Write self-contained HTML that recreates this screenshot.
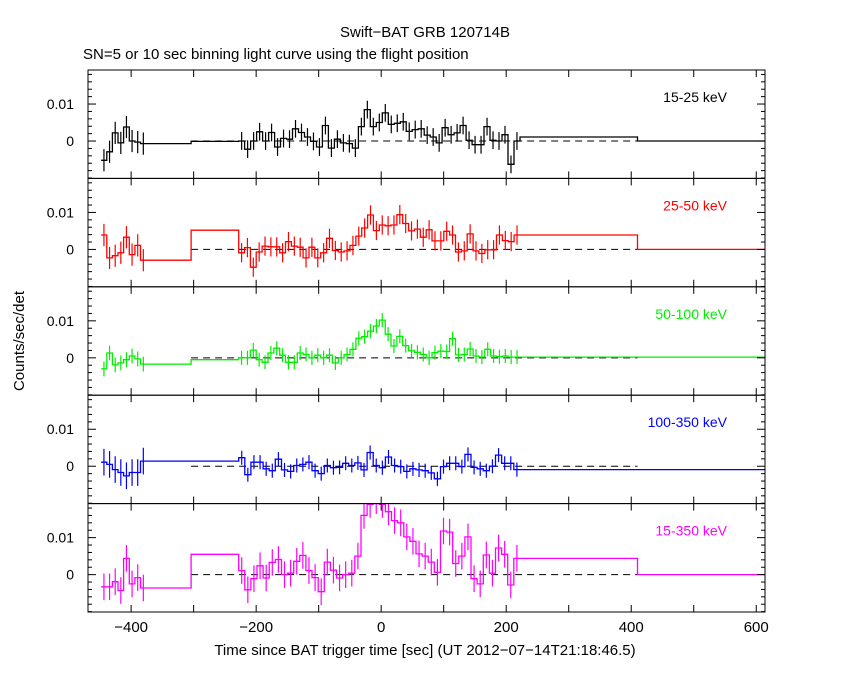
<!DOCTYPE html>
<html><head><meta charset="utf-8"><style>
body{margin:0;background:#fff;}
svg{display:block;font-family:"Liberation Sans",sans-serif;}
</style></head><body>
<svg id="c" width="850" height="680"></svg>
<script>
const bandLabels=["15-25 keV","25-50 keV","50-100 keV","100-350 keV","15-350 keV"];
const bandColors=["#000","#ff0000","#00ee00","#0000ff","#ff00ff"];
// units: 0.001 counts/sec/det
const early1=[-5.2,-2.9,2.2,-0.5,3.8,0,-0.3,-0.7];
const early2=[3.9,-2.3,-1.7,-0.9,3.3,-1.4,1.1,-2.9];
const early3=[-3,1.3,-1.9,-1.4,-0.5,0.5,-0.3,-1.7];
const early4=[1.1,0.5,-0.9,-1.7,-2.6,-1.7,-1.7,1.4];
const early5=[-3.3,-3.3,-1.9,-4.3,4.4,-2.5,-0.8,-3.6];
const wide1=[-0.7,-0.1,1.1,0];
const wide2=[-2.9,5.2,3.9,0];
const wide3=[-1.7,-0.5,0.2,0.2];
const wide4=[1.4,1.4,-0.9,-0.9];
const wide5=[-3.6,5.5,4.4,0];
const dense1=[0,-2.2,0,2.5,0,2.3,-1.6,0.7,0.5,3.3,2.3,1.1,-0.1,-1.6,4.2,-1.9,0.5,-0.5,-0.7,-1.9,3.9,8.5,3.9,5,7.6,4.5,4.8,5.2,2.6,3.1,3.3,1.6,1.1,-0.5,3.6,1.7,2.2,4.2,0.2,-1,-1,3.9,0.2,0,1.7,-6.3,0];
const dense2=[-0.9,0.5,-4.8,-0.7,0.9,0.7,0.7,-0.9,2.1,0.9,0.6,-2.3,0.6,-2.3,-0.9,3,-0.3,-0.7,-0.4,1.1,3.6,5.8,9.3,5.1,6.6,6.4,6.6,9.4,7,5,5.5,3.3,5.3,2.3,2.3,4.9,3.9,-0.7,-0.4,4.2,-0.4,-1.1,-0.1,-0.1,3.9,2.4,2.1,3.9];
const dense3=[0,0,2.1,-0.5,-1.2,1.3,2.6,0.7,-1.2,-1.2,1.3,0.9,0,0.7,0,0.7,-1.4,0,0.9,2.3,5.3,5.7,7.2,8.6,10.2,6.4,3.2,5.8,3.3,1.9,1.5,0.9,0,1.4,1.8,1.7,5.2,0.8,0.9,2.4,0.5,0.2,2.3,0.5,0.3,0.5,0.2,0.2];
const dense4=[2.3,-2.3,1.1,1.1,-0.7,-1.2,1.9,-1,-1.4,0.2,0.5,1.1,-1.2,-2,0.2,-0.4,-0.3,0.8,0.2,0.9,-1,3.7,0.2,-0.4,2.5,0.2,-0.1,-1.4,-0.7,-1,-1.2,-1.8,-3.4,-0.1,0.8,0.8,-0.1,3.2,-0.3,-0.7,-1.2,0,3,0.8,0.8,-0.9];
const dense5=[1.1,-4.1,-1.1,2.4,-0.9,3.3,4.1,0,0.4,3.6,5.2,1.1,-0.8,-4.6,3.4,1.2,-0.9,0,0.4,5,16,19,20,19,17,14.6,14,10.2,9,5.6,5,3.4,0.6,11.8,11.5,3,5,10.2,-1.1,-2.5,5.3,0.4,7.2,5.5,-2.8,4.4];
const earlyErr=[3,3,2,3.6,3.6,3];
const denseErr=[2.4,2.6,1.9,1.9,3.6];
const xTicks=[-400,-200,0,200,400,600];
const yTickLabels=["0.01","0"];
const early=[early1,early2,early3,early4,early5];
const wide=[wide1,wide2,wide3,wide4,wide5];
const dense=[dense1,dense2,dense3,dense4,dense5];
// time bin definitions (sec)
const earlyStart=-448, earlyEnd=-376;
const wideEdges=[-376,-304,-228,222,410,614];
const denseStart=-228, denseEnd=222;

const svg=document.getElementById('c');
const NS='http://www.w3.org/2000/svg';
function el(t,a,p){const e=document.createElementNS(NS,t);for(const k in a)e.setAttribute(k,a[k]);(p||svg).appendChild(e);return e;}
const L=88,R=765,T0=70,PH=108.4;
const xMin=-469,xMax=614,yMin=-0.0101,yMax=0.0192;
const X=t=>L+(t-xMin)/(xMax-xMin)*(R-L);
const Y=(i,v)=>T0+PH*i+(yMax-v)/(yMax-yMin)*PH;

const defs=el('defs',{});
for(let i=0;i<5;i++){
  const cp=el('clipPath',{id:'cp'+i},defs);
  el('rect',{x:L,y:T0+PH*i,width:R-L,height:PH},cp);
}
for(let i=0;i<5;i++){
  const g=el('g',{'clip-path':'url(#cp'+i+')'});
  
  
  const c=bandColors[i];
  // dashed zero line
  el('line',{x1:X(-304),x2:X(410),y1:Y(i,0),y2:Y(i,0),stroke:'#000','stroke-dasharray':'7,5','stroke-width':1},g);
  // build bins
  const bins=[];
  const ew=(earlyEnd-earlyStart)/early[i].length;
  early[i].forEach((v,k)=>bins.push([earlyStart+k*ew,earlyStart+(k+1)*ew,v,earlyErr[i]]));
  bins.push([wideEdges[0],wideEdges[1],wide[i][0],0]);
  bins.push([wideEdges[1],wideEdges[2],wide[i][1],0]);
  const dw=(denseEnd-denseStart)/dense[i].length;
  dense[i].forEach((v,k)=>bins.push([denseStart+k*dw,denseStart+(k+1)*dw,v,denseErr[i]]));
  bins.push([wideEdges[3],wideEdges[4],wide[i][2],0]);
  bins.push([wideEdges[4],wideEdges[5],wide[i][3],0]);
  let d='';
  bins.forEach((b,k)=>{
    const y=Y(i,b[2]/1000);
    d+=(k===0?'M':'L')+X(b[0]).toFixed(1)+','+y.toFixed(1)+'L'+X(b[1]).toFixed(1)+','+y.toFixed(1);
    if(b[3]>0){const xm=X((b[0]+b[1])/2);
      const eb=el('line',{x1:xm,x2:xm,y1:Y(i,(b[2]+b[3])/1000),y2:Y(i,(b[2]-b[3])/1000),stroke:c,'stroke-width':1.2},g);
      
      }
  });
  el('path',{d:d,fill:'none',stroke:c,'stroke-width':1.3},g);
  // frame
  const top=T0+PH*i;
  const fr=el('rect',{x:L,y:top,width:R-L,height:PH,fill:'none',stroke:'#000','stroke-width':1});
  
  
  for(let t=-400;t<=600;t+=100){
    el('line',{x1:X(t),x2:X(t),y1:top,y2:top+7,stroke:'#000'});
    el('line',{x1:X(t),x2:X(t),y1:top+PH,y2:top+PH-7,stroke:'#000'});
  }
  for(let v=-0.01;v<=0.0192;v+=0.002){
    const yy=Y(i,v);if(yy<top||yy>top+PH)continue;
    const maj=Math.abs(v-0.01)<1e-6||Math.abs(v)<1e-6;
    el('line',{x1:L,x2:L+(maj?8:4),y1:yy,y2:yy,stroke:'#000'});
    el('line',{x1:R,x2:R-(maj?8:4),y1:yy,y2:yy,stroke:'#000'});
  }
  [0.01,0].forEach((v,k)=>{
    const t=el('text',{x:74,y:Y(i,v)+5,'text-anchor':'end','font-size':14,fill:'#000'});
    t.textContent=yTickLabels[k];
    
    
  });
  const lb=el('text',{x:727,y:top+32,'text-anchor':'end','font-size':14,fill:c});
  lb.textContent=bandLabels[i];
  
  
}
xTicks.forEach(t=>{
  const tx=el('text',{x:X(t),y:632,'text-anchor':'middle','font-size':15,fill:'#000'});
  tx.textContent=String(t).replace('-','\u2212');
  
  
});
function txt(s,a,name){const t=el('text',a);t.textContent=s;}
txt('Swift\u2212BAT GRB 120714B',{x:425,y:37,'text-anchor':'middle','font-size':15},'chart-title');
txt('SN=5 or 10 sec binning light curve using the flight position',{x:83,y:59,'font-size':15},'chart-subtitle');
txt('Time since BAT trigger time [sec] (UT 2012\u221207\u221214T21:18:46.5)',{x:425,y:655,'text-anchor':'middle','font-size':15},'x-axis-title');
txt('Counts/sec/det',{x:24,y:341,'text-anchor':'middle','font-size':15,transform:'rotate(-90 24 341)'},'y-axis-title');
</script>
</body></html>
